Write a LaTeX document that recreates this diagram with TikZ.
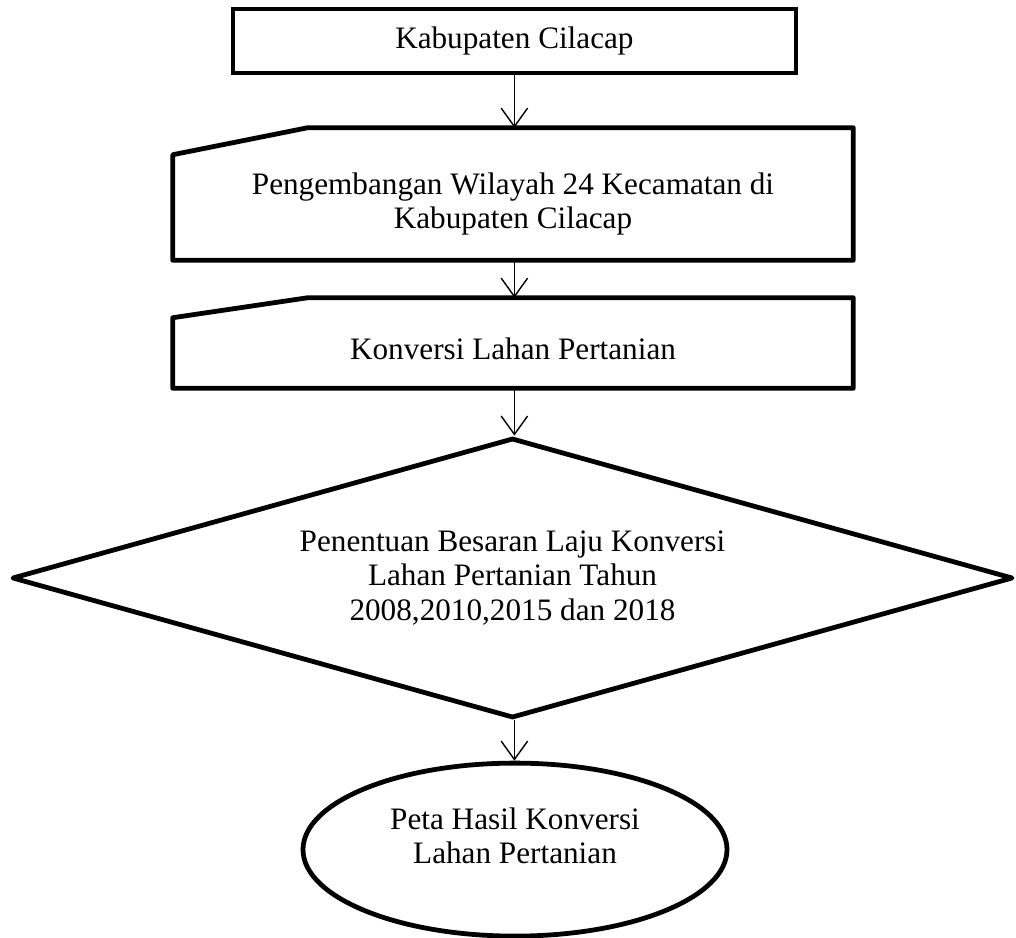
\documentclass[tikz,border=0pt]{standalone}
\usepackage{fontspec}
\setmainfont{Liberation Serif}
\usepackage{tikz}
\usetikzlibrary{arrows.meta,positioning,calc,shapes.geometric}
\tikzset{
  kotak/.style={draw, line width=3.4pt, minimum width=14.075cm, minimum height=1.6cm, inner sep=0pt, align=center},
  masuk/.style={minimum width=17cm, inner sep=0pt},
  tks/.style={inner sep=0pt, align=center},
  garis/.style={line width=3.4pt, line join=round},
  keputusan/.style={draw, diamond, aspect=3.575, line width=3.4pt, line join=round, minimum width=25.025cm, minimum height=7cm, inner sep=0pt, align=center},
  hasil/.style={draw, ellipse, line width=3.4pt, minimum width=10.6cm, minimum height=4.325cm, inner sep=0pt},
  ar/.style={-{Straight Barb[length=4.6mm, width=6.6mm]}, line width=1pt},
}

\begin{document}
\begin{tikzpicture}[font=\fontsize{22.2pt}{24.5pt}\selectfont]
        \useasboundingbox (0,0) rectangle (25.4,-23.425);
        \node[kotak] (awal) at (12.86,-1.025) {Kabupaten Cilacap};
        \node[masuk, minimum height=3.3cm] (wil) at (12.825,-4.85) {};
        \draw[garis] (wil.south west) -- ($(wil.north west)+(0,-0.675)$) -- ($(wil.north west)+(3.375,0)$) -- (wil.north east) -- (wil.south east) -- cycle;
        \node[tks] (wiltx) at (12.825,-5.1) {Pengembangan Wilayah 24 Kecamatan di\\Kabupaten Cilacap};
        \node[masuk, minimum height=2.25cm] (kon) at (12.825,-8.575) {};
        \draw[garis] (kon.south west) -- ($(kon.north west)+(0,-0.5)$) -- ($(kon.north west)+(3.375,0)$) -- (kon.north east) -- (kon.south east) -- cycle;
        \node[tks] (kontx) at (12.825,-8.72) {Konversi Lahan Pertanian};
        \node[keputusan] (laju) at (12.8125,-14.45) {Penentuan Besaran Laju Konversi\\Lahan Pertanian Tahun\\2008,2010,2015 dan 2018};
        \node[hasil] (peta) at (12.875,-21.24) {};
        \node[tks] (petatx) at (12.875,-20.9) {Peta Hasil Konversi\\Lahan Pertanian};
        \draw[ar] (awal.south) -- (awal.south |- wil.north);
        \draw[ar] (wil.south -| awal.south) -- (awal.south |- kon.north);
        \draw[ar] (kon.south -| awal.south) -- (awal.south |- laju.north);
        \draw[ar] (laju.south -| awal.south) -- (awal.south |- peta.north);
      \end{tikzpicture}
\end{document}
